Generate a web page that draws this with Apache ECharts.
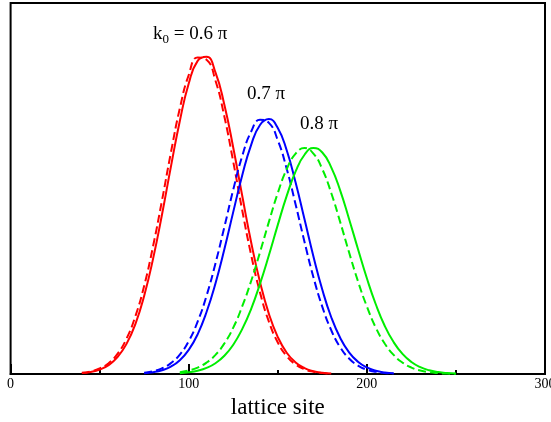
<!DOCTYPE html>
<html>
<head>
<meta charset="utf-8">
<script src="https://cdn.jsdelivr.net/npm/echarts@6/dist/echarts.min.js"></script>
<style>html,body{margin:0;padding:0;background:#fff;}#c{width:551px;height:422px;}</style>
</head>
<body>
<div id="c"></div>
<script>
var xTicks = [0, 100, 200, 300];
var redX = [40,45,50,55,60,65,70,75,80,85,90,95,100,105,110,115,120,125,130,135,140,145,150,155,160,165,170,175,180];
var redSolid = [0.0024,0.0055,0.0119,0.0239,0.0453,0.0805,0.134,0.211,0.311,0.430,0.559,0.682,0.783,0.844,0.855,0.813,0.726,0.610,0.481,0.356,0.248,0.162,0.0996,0.0574,0.0311,0.0158,0.0076,0.0034,0.0014];
var redDashed = [0.0031,0.0070,0.0148,0.0292,0.0542,0.0945,0.155,0.238,0.345,0.468,0.597,0.716,0.806,0.853,0.847,0.791,0.694,0.572,0.442,0.322,0.220,0.141,0.0850,0.0481,0.0256,0.0128,0.0060,0.0026,0.0011];
var blueX = [75,80,85,90,95,100,105,110,115,120,125,130,135,140,145,150,155,160,165,170,175,180,185,190,195,200,205,210,215];
var blueSolid = [0.0022,0.0049,0.0102,0.0201,0.0372,0.0651,0.107,0.167,0.244,0.336,0.437,0.535,0.617,0.671,0.687,0.663,0.603,0.516,0.417,0.317,0.227,0.153,0.0976,0.0585,0.0331,0.0176,0.0088,0.0042,0.0019];
var blueDashed = [0.0036,0.0076,0.0154,0.0293,0.0525,0.0885,0.141,0.211,0.298,0.396,0.497,0.587,0.653,0.685,0.677,0.630,0.553,0.457,0.356,0.261,0.181,0.118,0.0723,0.0419,0.0228,0.0117,0.0057,0.0026,0.0011];
var greenX = [95,100,105,110,115,120,125,130,135,140,145,150,155,160,165,170,175,180,185,190,195,200,205,210,215,220,225,230,235,240,245,250];
var greenSolid = [0.0022,0.0045,0.0088,0.0164,0.0291,0.0491,0.0789,0.121,0.175,0.243,0.320,0.402,0.480,0.546,0.591,0.609,0.597,0.557,0.495,0.418,0.337,0.258,0.188,0.130,0.0861,0.0541,0.0324,0.0185,0.0100,0.0052,0.0025,0.0012];
var greenDashed = [0.0048,0.0094,0.0174,0.0307,0.0516,0.0824,0.125,0.182,0.250,0.328,0.410,0.488,0.552,0.594,0.609,0.594,0.552,0.488,0.410,0.328,0.250,0.182,0.125,0.0824,0.0516,0.0307,0.0174,0.0094,0.0048,0.0024,0.0011,0.0005];

function pairs(xs, ys){ return xs.map(function(x,i){ return [x, ys[i]]; }); }
function line(name, xs, ys, color, dashed){
  return {
    name: name, type: 'line', data: pairs(xs, ys), smooth: true, symbol: 'none',
    lineStyle: { color: color, width: 2, type: dashed ? [8,4] : 'solid' },
    animation: false
  };
}
var serif = '"Liberation Serif","DejaVu Serif",serif';
var chart = echarts.init(document.getElementById('c'));
chart.setOption({
  backgroundColor: '#fff',
  animation: false,
  grid: { left: 10.6, right: 6, top: 3, bottom: 48, show: true, borderColor: '#000', borderWidth: 2, backgroundColor: 'transparent', containLabel: false, outerBoundsMode: 'none' },
  xAxis: {
    type: 'value', min: xTicks[0], max: xTicks[xTicks.length-1], interval: 100,
    axisLine: { show: true, lineStyle: { color: '#000', width: 2 } },
    axisTick: { show: true, inside: true, length: 10, lineStyle: { color: '#000', width: 2 } },
    minorTick: { show: true, splitNumber: 2, length: 4, lineStyle: { color: '#000', width: 2 } },
    splitLine: { show: false },
    axisLabel: { color: '#000', fontFamily: serif, fontSize: 14, margin: 3, hideOverlap: false },
    name: 'lattice site', nameLocation: 'middle', nameGap: 22,
    nameTextStyle: { color: '#000', fontFamily: serif, fontSize: 23 }
  },
  yAxis: {
    type: 'value', min: 0, max: 1,
    axisLine: { show: false }, axisTick: { show: false }, axisLabel: { show: false }, splitLine: { show: false }
  },
  series: [
    line('0.6 solid', redX, redSolid, '#ff0000', false),
    line('0.6 dashed', redX, redDashed, '#ff0000', true),
    line('0.7 solid', blueX, blueSolid, '#0000ff', false),
    line('0.7 dashed', blueX, blueDashed, '#0000ff', true),
    line('0.8 solid', greenX, greenSolid, '#00ee00', false),
    line('0.8 dashed', greenX, greenDashed, '#00ee00', true)
  ],
  graphic: [
    { type: 'text', left: 153, top: 25, style: { text: 'k{s|0} = 0.6 π', fill: '#000', font: '19px ' + serif,
      rich: { s: { fontSize: 13, fontFamily: serif, fill: '#000', padding: [10,0,0,0] } } } },
    { type: 'text', left: 247, top: 85, style: { text: '0.7 π', fill: '#000', font: '19px ' + serif } },
    { type: 'text', left: 300, top: 115, style: { text: '0.8 π', fill: '#000', font: '19px ' + serif } }
  ]
});
</script>
</body>
</html>
